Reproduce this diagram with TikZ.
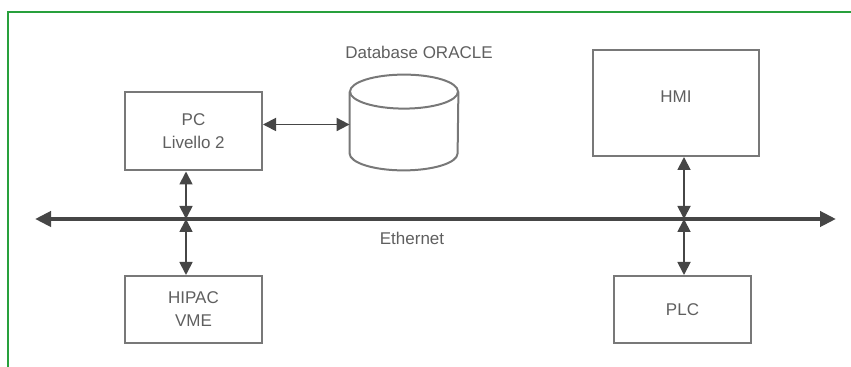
\documentclass[tikz,border=0pt]{standalone}
\usepackage{fontspec}
\setmainfont{Liberation Sans}
\usetikzlibrary{arrows.meta}

\definecolor{framegreen}{RGB}{40,160,60}
\definecolor{linegray}{RGB}{120,120,120}
\definecolor{busgray}{RGB}{70,70,70}
\definecolor{textgray}{RGB}{95,95,95}

\tikzset{
  unitbox/.style={draw=linegray,line width=1pt,align=center,text=textgray},
  drumline/.style={draw=linegray,line width=1pt},
  link/.style={draw=busgray,line width=0.9pt,{Triangle[length=6.5pt,width=6.5pt]}-{Triangle[length=6.5pt,width=6.5pt]}},
  bus/.style={draw=busgray,line width=2pt,{Triangle[length=8pt,width=7.5pt]}-{Triangle[length=8pt,width=7.5pt]}},
  caption/.style={text=textgray}
}

\begin{document}
\begin{tikzpicture}[x=0.5pt,y=-0.5pt,font=\fontsize{8.5}{11.5}\selectfont]
  \useasboundingbox (0,0) rectangle (851,367);
  % frame
  \draw[framegreen,line width=1pt] (8,367) -- (8,12) -- (851,12);

  % units
  \node[unitbox,minimum width=68.5pt,minimum height=39pt] (pc) at (193.5,131.5) {PC\\Livello 2};
  \node[minimum width=54pt,minimum height=47.5pt,inner sep=0pt] (db) at (404,122.5) {};
  \draw[drumline] ([yshift=-8.5pt]db.north west) -- ([yshift=8.5pt]db.south west)
    arc[start angle=180,end angle=0,x radius=54,y radius=17] -- ([yshift=-8.5pt]db.north east);
  \draw[drumline] ([yshift=-8.5pt]db.north) ellipse[x radius=54,y radius=17];
  \node[caption] (dblabel) at (419,52) {Database ORACLE};
  \node[unitbox,minimum width=83pt,minimum height=53pt,text depth=6pt] (hmi) at (676,103) {HMI};
  \node[unitbox,minimum width=68.5pt,minimum height=33.5pt] (hipac) at (193.5,309.5) {HIPAC\\VME};
  \node[unitbox,minimum width=68.5pt,minimum height=33.5pt] (plc) at (682.5,309.5) {PLC};

  % ethernet bus
  \coordinate (busL) at (35,219);
  \coordinate (busR) at (836,219);
  \coordinate (tapA) at (186,219);
  \coordinate (tapB) at (684,219);
  \draw[bus] (busL) -- (busR);
  \node[caption] (eth) at (412,238) {Ethernet};

  % links
  \draw[link] ([yshift=3.5pt]pc.east) -- ([yshift=3.5pt]pc.east -| db.west);
  \draw[link] (pc.south -| tapA) -- (tapA);
  \draw[link] (tapA) -- (hipac.north -| tapA);
  \draw[link] (hmi.south -| tapB) -- (tapB);
  \draw[link] (tapB) -- (plc.north -| tapB);
\end{tikzpicture}
\end{document}
